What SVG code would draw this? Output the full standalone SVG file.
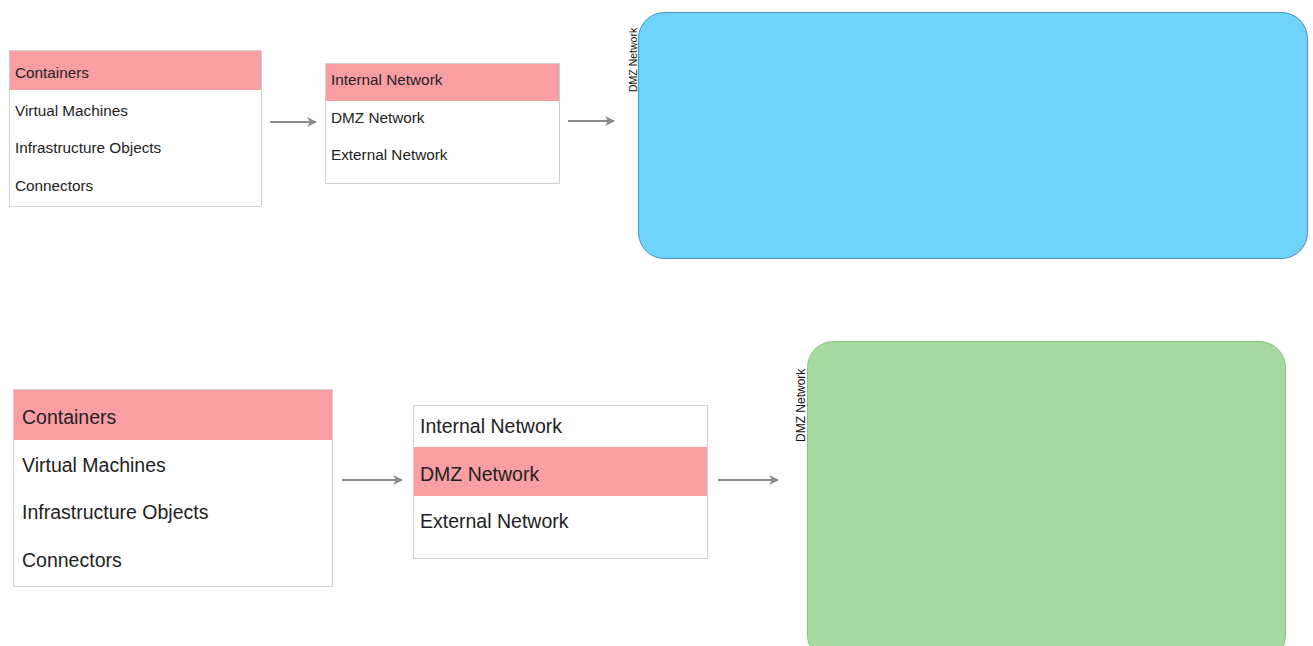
<svg xmlns="http://www.w3.org/2000/svg" width="1313" height="646" viewBox="0 0 1313 646">
<style>
.box{fill:#fff;stroke:#d0d0d0;stroke-width:1}
.sel{fill:#f99ea3}
.t{font-family:"Liberation Sans",Arial,sans-serif;fill:#222}
.s{font-size:15.3px}
.l{font-size:19.5px}
.conn{stroke:#8a8a8a;stroke-width:2;fill:none;marker-end:url(#ah)}
.lbl{font-family:"Liberation Sans",Arial,sans-serif;fill:#111}
</style>
<defs>
<marker id="ah" viewBox="0 0 10 10" refX="9" refY="5" markerWidth="5" markerHeight="5" orient="auto" markerUnits="strokeWidth">
<path d="M0,0 L10,5 L0,10 L3,5 Z" fill="#8a8a8a"/>
</marker>
</defs>
<rect width="1313" height="646" fill="#fff"/>
<g id="list1">
<rect class="box" x="9.5" y="50.5" width="252" height="156"/>
<rect class="sel" x="10" y="51" width="251" height="39"/>
<text class="t s" x="15" y="78">Containers</text>
<text class="t s" x="15" y="116">Virtual Machines</text>
<text class="t s" x="15" y="153">Infrastructure Objects</text>
<text class="t s" x="15" y="191">Connectors</text>
</g>
<g id="net1">
<rect class="box" x="325.5" y="63.5" width="234" height="120"/>
<rect class="sel" x="326" y="64" width="233" height="37"/>
<text class="t s" x="331" y="85">Internal Network</text>
<text class="t s" x="331" y="123">DMZ Network</text>
<text class="t s" x="331" y="160">External Network</text>
</g>
<g id="zone1">
<rect x="638.5" y="12.5" width="669" height="246" rx="26" ry="26" fill="#70d3fb" stroke="#4d8fbf" stroke-width="1"/>
<text class="lbl" font-size="10.5" transform="translate(637,92) rotate(-90)">DMZ Network</text>
</g>
<g id="list2">
<rect class="box" x="13.5" y="389.5" width="319" height="197"/>
<rect class="sel" x="14" y="390" width="318" height="50"/>
<text class="t l" x="22" y="424">Containers</text>
<text class="t l" x="22" y="472">Virtual Machines</text>
<text class="t l" x="22" y="519">Infrastructure Objects</text>
<text class="t l" x="22" y="567">Connectors</text>
</g>
<g id="net2">
<rect class="box" x="413.5" y="405.5" width="294" height="153"/>
<rect class="sel" x="414" y="447" width="293" height="49"/>
<text class="t l" x="420" y="433">Internal Network</text>
<text class="t l" x="420" y="481">DMZ Network</text>
<text class="t l" x="420" y="528">External Network</text>
</g>
<g id="zone2">
<rect x="807.5" y="341.5" width="478" height="320" rx="26" ry="26" fill="#a6d9a0" stroke="#8cc483" stroke-width="1"/>
<text class="lbl" font-size="12" transform="translate(805,442) rotate(-90)">DMZ Network</text>
</g>
<g id="connectors">
<line class="conn" x1="270" y1="122" x2="316" y2="122"/>
<line class="conn" x1="568" y1="121" x2="614" y2="121"/>
<line class="conn" x1="342" y1="480" x2="402" y2="480"/>
<line class="conn" x1="718" y1="480" x2="778" y2="480"/>
</g>
</svg>
